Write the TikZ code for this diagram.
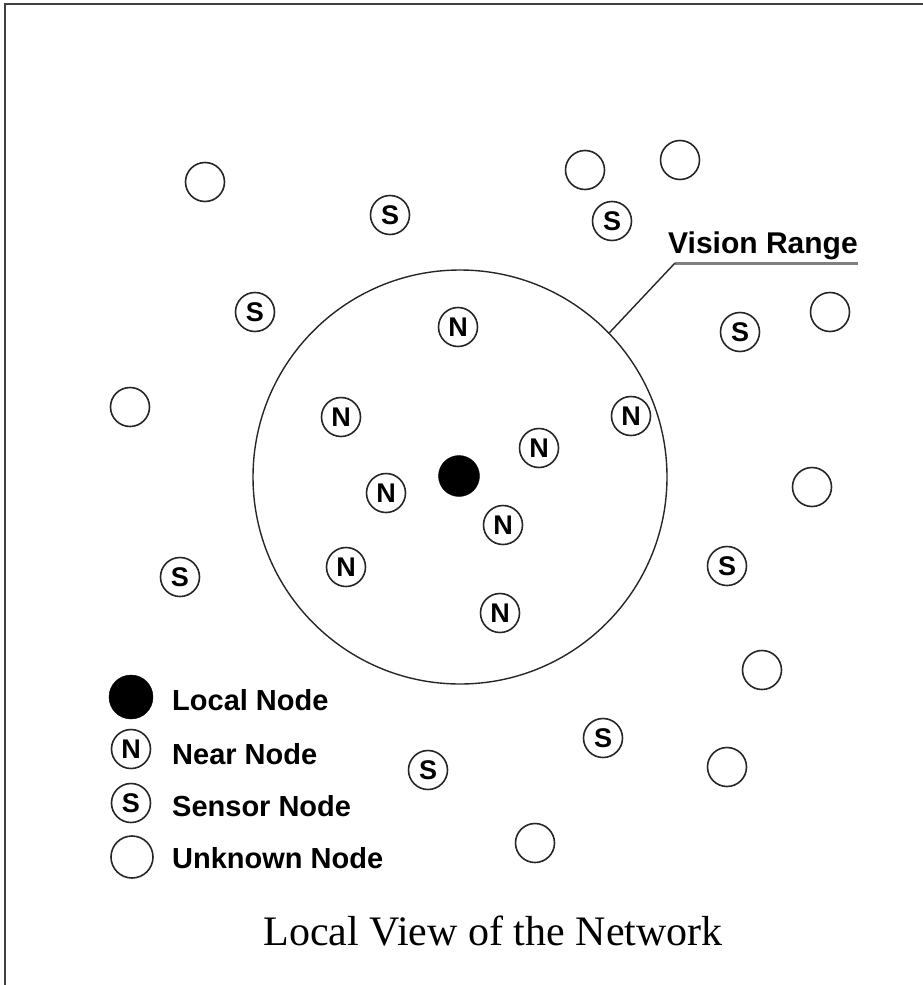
\documentclass[tikz,border=0pt]{standalone}
\usepackage{fontspec}
\setmainfont{Liberation Serif}
\newfontfamily\hv{Liberation Sans}
\begin{document}
\begin{tikzpicture}[x=1pt,y=-1pt,
  ring/.style={circle,draw=black!85,line width=1.6pt,minimum size=39pt,inner sep=0pt,
    font=\hv\bfseries\fontsize{27}{27}\selectfont},
  localnode/.style={circle,fill=black,draw=black,minimum size=41pt,inner sep=0pt},
  legtext/.style={anchor=west,font=\hv\bfseries\fontsize{29}{29}\selectfont,inner sep=0pt},
  frame/.style={draw=black!75,line width=2pt}]
\useasboundingbox (0,0) rectangle (923,985);
% frame
\coordinate (f1) at (5,985);
\coordinate (f2) at (5,4);
\coordinate (f3) at (923,4);
\draw[frame] (f1) -- (f2) -- (f3);
% vision range
\node[circle,draw=black!85,line width=1.4pt,minimum size=414pt,inner sep=0pt] (big) at (460,477) {};
\node[anchor=base west,font=\hv\bfseries\fontsize{30}{30}\selectfont,inner sep=0pt] (vr) at (668,253) {Vision Range};
\coordinate (u1) at (675,263);
\coordinate (u2) at (858,263);
\draw[black!50,line width=3pt] (u1) -- (u2);
\draw[black!85,line width=1.4pt] (big.44) -- (u1);
% local node
\node[localnode] (L) at (459,476) {};
% near nodes
\node[ring] (n1) at (458,327) {N};
\node[ring] (n2) at (341,417) {N};
\node[ring] (n3) at (631,416) {N};
\node[ring] (n4) at (539,448) {N};
\node[ring] (n5) at (386,493) {N};
\node[ring] (n6) at (503,525) {N};
\node[ring] (n7) at (346,567) {N};
\node[ring] (n8) at (500,613) {N};
% sensor nodes
\node[ring] (s1) at (390,215) {S};
\node[ring] (s2) at (612,221) {S};
\node[ring] (s3) at (255,312) {S};
\node[ring] (s4) at (740,332) {S};
\node[ring] (s5) at (180,577) {S};
\node[ring] (s6) at (727,566) {S};
\node[ring] (s7) at (603,738) {S};
\node[ring] (s8) at (428,770) {S};
% unknown nodes
\node[ring] (u01) at (205,182) {};
\node[ring] (u02) at (585,170) {};
\node[ring] (u03) at (680,160) {};
\node[ring] (u04) at (830,312) {};
\node[ring] (u05) at (130,407) {};
\node[ring] (u06) at (812,487) {};
\node[ring] (u07) at (762,670) {};
\node[ring] (u08) at (727,767) {};
\node[ring] (u09) at (535,843) {};
% legend
\node[localnode,minimum size=44pt] (lgL) at (131,697) {};
\node[ring] (lgN) at (131,749) {N};
\node[ring] (lgS) at (131,803) {S};
\node[ring,minimum size=42pt] (lgU) at (132,857) {};
\node[legtext] (tL) at (172,700) {Local Node};
\node[legtext] (tN) at (172,754) {Near Node};
\node[legtext] (tS) at (172,806) {Sensor Node};
\node[legtext] (tU) at (172,858) {Unknown Node};
% title
\node[anchor=base,font=\fontsize{42}{42}\selectfont,inner sep=0pt] (title) at (493,945) {Local View of the Network};
\end{tikzpicture}
\end{document}
